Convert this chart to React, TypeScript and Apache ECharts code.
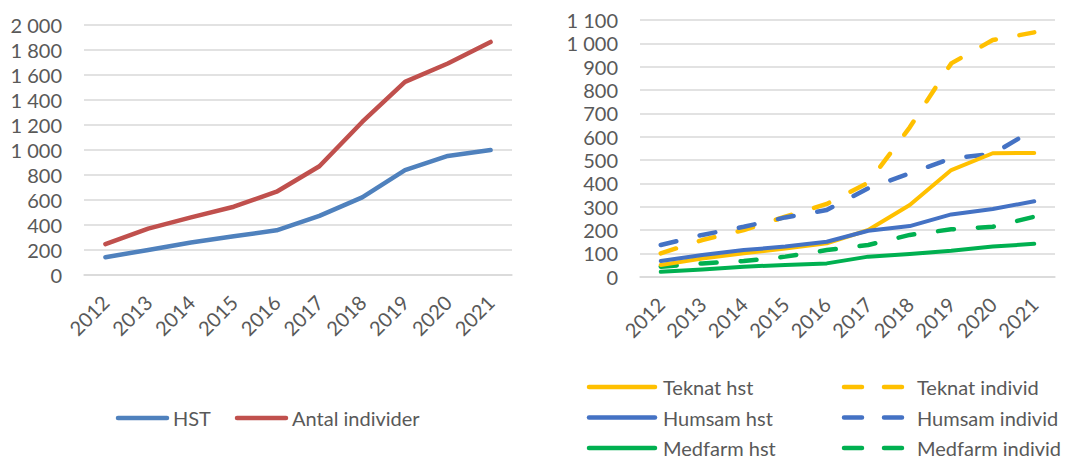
import React, { useEffect, useRef } from "react";
import * as echarts from "echarts";

const years = ["2012", "2013", "2014", "2015", "2016", "2017", "2018", "2019", "2020", "2021"];

const hst = [140, 198, 257, 307, 355, 471, 619, 836, 950, 998];
const antalIndivider = [245, 368, 459, 544, 664, 868, 1222, 1543, 1690, 1862];

const teknatHst = [50, 78, 100, 121, 143, 200, 307, 457, 529, 530];
const teknatIndivid = [100, 157, 200, 257, 312, 403, 640, 914, 1014, 1047];
const humsamHst = [67, 93, 114, 129, 150, 197, 217, 267, 290, 323];
const humsamIndivid = [136, 179, 214, 254, 286, 379, 443, 507, 526, 632];
const medfarmHst = [21, 31, 43, 50, 57, 86, 97, 111, 129, 141];
const medfarmIndivid = [43, 57, 67, 86, 114, 136, 179, 203, 214, 257];

const leftNames = ["HST", "Antal individer"];
const hstNames = ["Teknat hst", "Humsam hst", "Medfarm hst"];
const individNames = ["Teknat individ", "Humsam individ", "Medfarm individ"];

const FONT = "Lato";
const TXT = "#595959";
const GRID = "#d9d9d9";
const LEFT_COLORS = ["#4F81BD", "#C0504D"];
const RIGHT_COLORS = ["#FFC000", "#4472C4", "#00B050"];
const DASH = [16, 24];

const fmt = (v: number) => String(v).replace(/\B(?=(\d{3})+(?!\d))/g, " ");

export default function App() {
  const ref = useRef<HTMLDivElement>(null);
  useEffect(() => {
    if (!ref.current) return;
    const chart = echarts.init(ref.current, undefined, { renderer: "svg" });
    const xAxisBase = {
      type: "category" as const,
      data: years,
      boundaryGap: true,
      axisTick: { show: false },
      axisLine: { show: true, lineStyle: { color: GRID, width: 1.5 } },
      axisLabel: { rotate: 45, interval: 0, fontSize: 20, color: TXT, fontFamily: FONT, margin: 24 },
    };
    const yAxisBase = {
      type: "value" as const,
      min: 0,
      axisLine: { show: false },
      axisTick: { show: false },
      splitLine: { show: true, lineStyle: { color: GRID, width: 1.5 } },
      axisLabel: { fontSize: 20, color: TXT, fontFamily: FONT, margin: 22, formatter: (v: number) => fmt(v) },
    };
    const solid = (color: string, w: number) => ({ color, width: w, cap: "round" as const, join: "round" as const });
    const dashed = (color: string, w: number) => ({ color, width: w, type: DASH, cap: "round" as const, join: "round" as const });
    const mk = (name: string, data: number[], idx: number, ls: any) => ({
      name,
      type: "line" as const,
      data,
      xAxisIndex: idx,
      yAxisIndex: idx,
      showSymbol: false,
      symbol: "none",
      lineStyle: ls,
      itemStyle: { color: ls.color },
    });

    const textEl = (text: string, x: number, y: number) => ({
      type: "text",
      style: {
        text,
        x,
        y,
        fill: TXT,
        fontSize: 20,
        fontFamily: FONT,
        verticalAlign: "middle",
        textVerticalAlign: "middle",
        align: "left",
      },
      silent: true,
    });
    const lineEl = (x1: number, x2: number, y: number, color: string, dash?: number[]) => ({
      type: "line",
      shape: { x1, y1: y, x2, y2: y },
      style: { stroke: color, lineWidth: 4.5, lineCap: "round", lineDash: dash || null },
      silent: true,
    });

    const graphics: any[] = [];
    // left legend
    graphics.push(lineEl(118, 167, 418, LEFT_COLORS[0]));
    graphics.push(textEl(leftNames[0], 173, 418));
    graphics.push(lineEl(237, 286, 418, LEFT_COLORS[1]));
    graphics.push(textEl(leftNames[1], 292, 418));
    // right legend
    const rows = [387, 417.5, 448];
    rows.forEach((y, i) => {
      graphics.push(lineEl(589, 655, y, RIGHT_COLORS[i]));
      graphics.push(textEl(hstNames[i], 663, y));
      graphics.push(lineEl(844, 903, y, RIGHT_COLORS[i], [18, 22]));
      graphics.push(textEl(individNames[i], 917, y));
    });

    chart.setOption({
      animation: false,
      grid: [
        { left: 84, top: 24.7, width: 428, height: 250 },
        { left: 640, top: 20, width: 415, height: 256.7 },
      ],
      xAxis: [{ ...xAxisBase, gridIndex: 0 }, { ...xAxisBase, gridIndex: 1 }],
      yAxis: [
        { ...yAxisBase, gridIndex: 0, max: 2000, interval: 200 },
        { ...yAxisBase, gridIndex: 1, max: 1100, interval: 100 },
      ],
      graphic: graphics,
      series: [
        mk(leftNames[0], hst, 0, solid(LEFT_COLORS[0], 4.5)),
        mk(leftNames[1], antalIndivider, 0, solid(LEFT_COLORS[1], 4.5)),
        mk(individNames[0], teknatIndivid, 1, dashed(RIGHT_COLORS[0], 4.5)),
        mk(individNames[1], humsamIndivid, 1, dashed(RIGHT_COLORS[1], 4.5)),
        mk(individNames[2], medfarmIndivid, 1, dashed(RIGHT_COLORS[2], 4.5)),
        mk(hstNames[0], teknatHst, 1, solid(RIGHT_COLORS[0], 4)),
        mk(hstNames[1], humsamHst, 1, solid(RIGHT_COLORS[1], 4)),
        mk(hstNames[2], medfarmHst, 1, solid(RIGHT_COLORS[2], 4)),
      ],
    });
    return () => chart.dispose();
  }, []);
  return (
    <div
      ref={ref}
      style={{ position: "fixed", left: 0, top: 0, width: 1091, height: 456, background: "#fff" }}
    />
  );
}
